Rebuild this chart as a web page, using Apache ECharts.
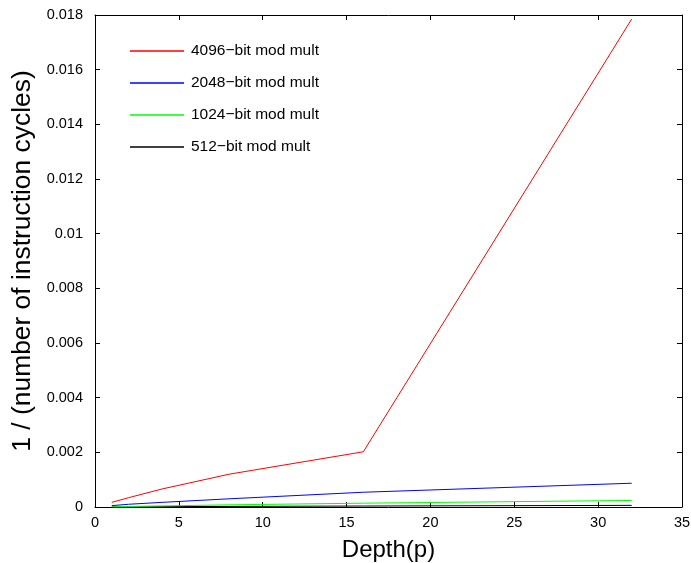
<!DOCTYPE html>
<html><head><meta charset="utf-8">
<script src="https://cdn.jsdelivr.net/npm/echarts@6/dist/echarts.min.js"></script>
<style>html,body{margin:0;padding:0;background:#fff}#c{width:691px;height:563px}</style>
</head><body><div id="c"></div>
<script>
const depth = [1, 2, 4, 8, 16, 32];
const seriesNames = ['4096\u2212bit mod mult', '2048\u2212bit mod mult', '1024\u2212bit mod mult', '512\u2212bit mod mult'];
const v4096 = [0.00017, 0.00034, 0.00066, 0.0012, 0.00202, 0.01785];
const v2048 = [0.00005, 0.0001, 0.00017, 0.0003, 0.00054, 0.00087];
const v1024 = [0.00001, 0.00002, 0.00004, 0.00008, 0.00014, 0.00024];
const v512 = [0.000003, 0.000006, 0.000012, 0.000022, 0.000035, 0.00006];
const colors = ['#ff0000', '#0000ff', '#00ff00', '#000000'];
const xLabel = 'Depth(p)';
const yLabel = '1 / (number of instruction cycles)';

const font = 'Liberation Sans, Arial, sans-serif';
const allVals = [v4096, v2048, v1024, v512];
const chart = echarts.init(document.getElementById('c'));
const axisCommon = () => ({
  axisLine: {show: true, onZero: false, lineStyle: {color: '#000', width: 1}},
  axisTick: {show: true, inside: true, length: 5, lineStyle: {color: '#000'}},
  splitLine: {show: false}
});
chart.setOption({
  animation: false,
  backgroundColor: '#fff',
  grid: {left: 95, right: 9, top: 15, bottom: 56, containLabel: false, outerBoundsMode: 'none'},
  legend: {
    left: 125, top: 38, orient: 'vertical', itemWidth: 54, itemHeight: 1.5, itemGap: 16,
    icon: 'rect',
    textStyle: {fontFamily: font, fontSize: 15.5, color: '#000', padding: [0,0,0,2]},
    data: seriesNames
  },
  xAxis: [
    Object.assign({type: 'value', min: 0, max: 35, interval: 5, name: xLabel, nameLocation: 'middle', nameGap: 31,
      nameTextStyle: {fontFamily: font, fontSize: 24, color: '#000'},
      axisLabel: {fontFamily: font, fontSize: 14.5, color: '#000', margin: 8}}, axisCommon()),
    Object.assign({type: 'value', position: 'top', min: 0, max: 35, interval: 5, axisLabel: {show: false}}, axisCommon())
  ],
  yAxis: [
    Object.assign({type: 'value', min: 0, max: 0.018, interval: 0.002, name: yLabel, nameLocation: 'middle', nameGap: 59,
      nameTextStyle: {fontFamily: font, fontSize: 26.4, color: '#000'},
      axisLabel: {fontFamily: font, fontSize: 14.5, color: '#000', margin: 12, formatter: v => String(parseFloat(v.toFixed(4)))}}, axisCommon()),
    Object.assign({type: 'value', position: 'right', min: 0, max: 0.018, interval: 0.002, axisLabel: {show: false}}, axisCommon())
  ],
  series: seriesNames.map((n, i) => ({
    name: n, type: 'line', showSymbol: false, symbol: 'none',
    lineStyle: {color: colors[i], width: 1}, itemStyle: {color: colors[i]},
    data: depth.map((d, j) => [d, allVals[i][j]]),
    z: 10 - i
  }))
});
</script></body></html>
